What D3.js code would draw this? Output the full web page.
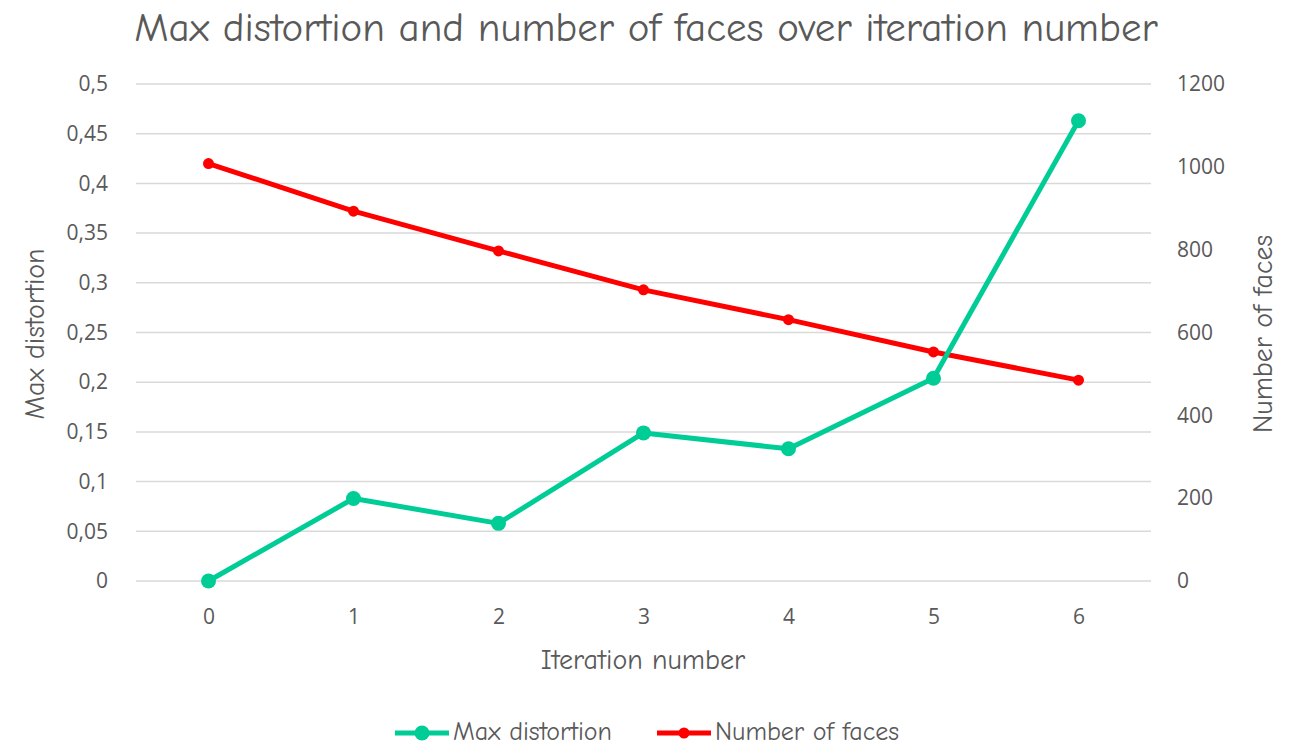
<!DOCTYPE html>
<html>
<head>
<meta charset="utf-8">
<script src="https://cdn.jsdelivr.net/npm/d3@7"></script>
<style>
  body { margin: 0; background: #fff; }
  .comic { font-family: "Comic Sans MS", "Comic Neue", "Lato", sans-serif; }
  .tick text { font-family: "Open Sans", "Noto Sans", sans-serif; }
</style>
</head>
<body>
<div id="chart"></div>
<script>
// iteration numbers on the x axis
const iterations = [0, 1, 2, 3, 4, 5, 6];
// max distortion (left axis)
const maxDistortion = [0, 0.083, 0.058, 0.149, 0.133, 0.204, 0.463];
// number of faces (right axis)
const numFaces = [1008, 893, 797, 703, 631, 553, 485];
// tick values
const leftTicks = [0, 0.05, 0.1, 0.15, 0.2, 0.25, 0.3, 0.35, 0.4, 0.45, 0.5];
const rightTicks = [0, 200, 400, 600, 800, 1000, 1200];

const width = 1290, height = 748;
const margin = {top: 84, right: 139, bottom: 167, left: 136};
const innerW = width - margin.left - margin.right;
const innerH = height - margin.top - margin.bottom;

const green = '#00cc96', red = '#ff0000', textCol = '#595959', gridCol = '#d9d9d9';

const svg = d3.select('#chart').append('svg')
  .attr('width', width)
  .attr('height', height);

const g = svg.append('g')
  .attr('transform', 'translate(' + margin.left + ',' + margin.top + ')');

const x = d3.scalePoint()
  .domain(iterations)
  .range([0, innerW])
  .padding(0.5);

const yL = d3.scaleLinear().domain([0, 0.5]).range([innerH, 0]);
const yR = d3.scaleLinear().domain([0, 1200]).range([innerH, 0]);

const fmtL = d => String(d).replace('.', ',');

// gridlines
g.append('g')
  .selectAll('line').data(leftTicks)
  .enter().append('line')
  .attr('x1', 0).attr('x2', innerW)
  .attr('y1', d => yL(d)).attr('y2', d => yL(d))
  .attr('stroke', gridCol).attr('stroke-width', 1.5);

// left axis
const axL = g.append('g')
  .call(d3.axisLeft(yL).tickValues(leftTicks).tickFormat(fmtL).tickSize(0).tickPadding(28));
axL.select('.domain').remove();
axL.selectAll('text').attr('font-size', 21).attr('fill', textCol);

// right axis
const axR = g.append('g')
  .attr('transform', 'translate(' + innerW + ',0)')
  .call(d3.axisRight(yR).tickValues(rightTicks).tickFormat(d3.format('d')).tickSize(0).tickPadding(26));
axR.select('.domain').remove();
axR.selectAll('text').attr('font-size', 21).attr('fill', textCol);

// bottom axis
const axB = g.append('g')
  .attr('transform', 'translate(0,' + innerH + ')')
  .call(d3.axisBottom(x).tickSize(0).tickPadding(28));
axB.select('.domain').remove();
axB.selectAll('text').attr('font-size', 21).attr('fill', textCol);

// lines
const lineL = d3.line().x((d, i) => x(iterations[i])).y(d => yL(d));
const lineR = d3.line().x((d, i) => x(iterations[i])).y(d => yR(d));

g.append('path').datum(numFaces)
  .attr('d', lineR).attr('fill', 'none')
  .attr('stroke', red).attr('stroke-width', 5).attr('stroke-linejoin', 'round');
g.selectAll('.dotR').data(numFaces)
  .enter().append('circle')
  .attr('cx', (d, i) => x(iterations[i])).attr('cy', d => yR(d))
  .attr('r', 5.5).attr('fill', red);

g.append('path').datum(maxDistortion)
  .attr('d', lineL).attr('fill', 'none')
  .attr('stroke', green).attr('stroke-width', 5).attr('stroke-linejoin', 'round');
g.selectAll('.dotL').data(maxDistortion)
  .enter().append('circle')
  .attr('cx', (d, i) => x(iterations[i])).attr('cy', d => yL(d))
  .attr('r', 7.5).attr('fill', green);

// title
svg.append('text').attr('class', 'comic')
  .attr('x', 646).attr('y', 41)
  .attr('text-anchor', 'middle')
  .attr('font-size', 41).attr('fill', textCol)
  .text('Max distortion and number of faces over iteration number');

// axis titles
svg.append('text').attr('class', 'comic')
  .attr('transform', 'translate(44,334) rotate(-90)')
  .attr('text-anchor', 'middle').attr('font-size', 28).attr('fill', textCol)
  .text('Max distortion');

svg.append('text').attr('class', 'comic')
  .attr('transform', 'translate(1272,334) rotate(-90)')
  .attr('text-anchor', 'middle').attr('font-size', 28).attr('fill', textCol)
  .text('Number of faces');

svg.append('text').attr('class', 'comic')
  .attr('x', 643).attr('y', 669)
  .attr('text-anchor', 'middle').attr('font-size', 28).attr('fill', textCol)
  .text('Iteration number');

// legend
const legend = [
  {name: 'Max distortion', color: green, r: 7.5, x: 395},
  {name: 'Number of faces', color: red, r: 5.5, x: 657}
];
const lg = svg.append('g').attr('transform', 'translate(0,733)');
legend.forEach(l => {
  lg.append('line').attr('x1', l.x).attr('x2', l.x + 54).attr('y1', 0).attr('y2', 0)
    .attr('stroke', l.color).attr('stroke-width', 5);
  lg.append('circle').attr('cx', l.x + 27).attr('cy', 0).attr('r', l.r).attr('fill', l.color);
  lg.append('text').attr('class', 'comic').attr('x', l.x + 58).attr('y', 7)
    .attr('font-size', 26).attr('fill', textCol).text(l.name);
});
</script>
</body>
</html>
